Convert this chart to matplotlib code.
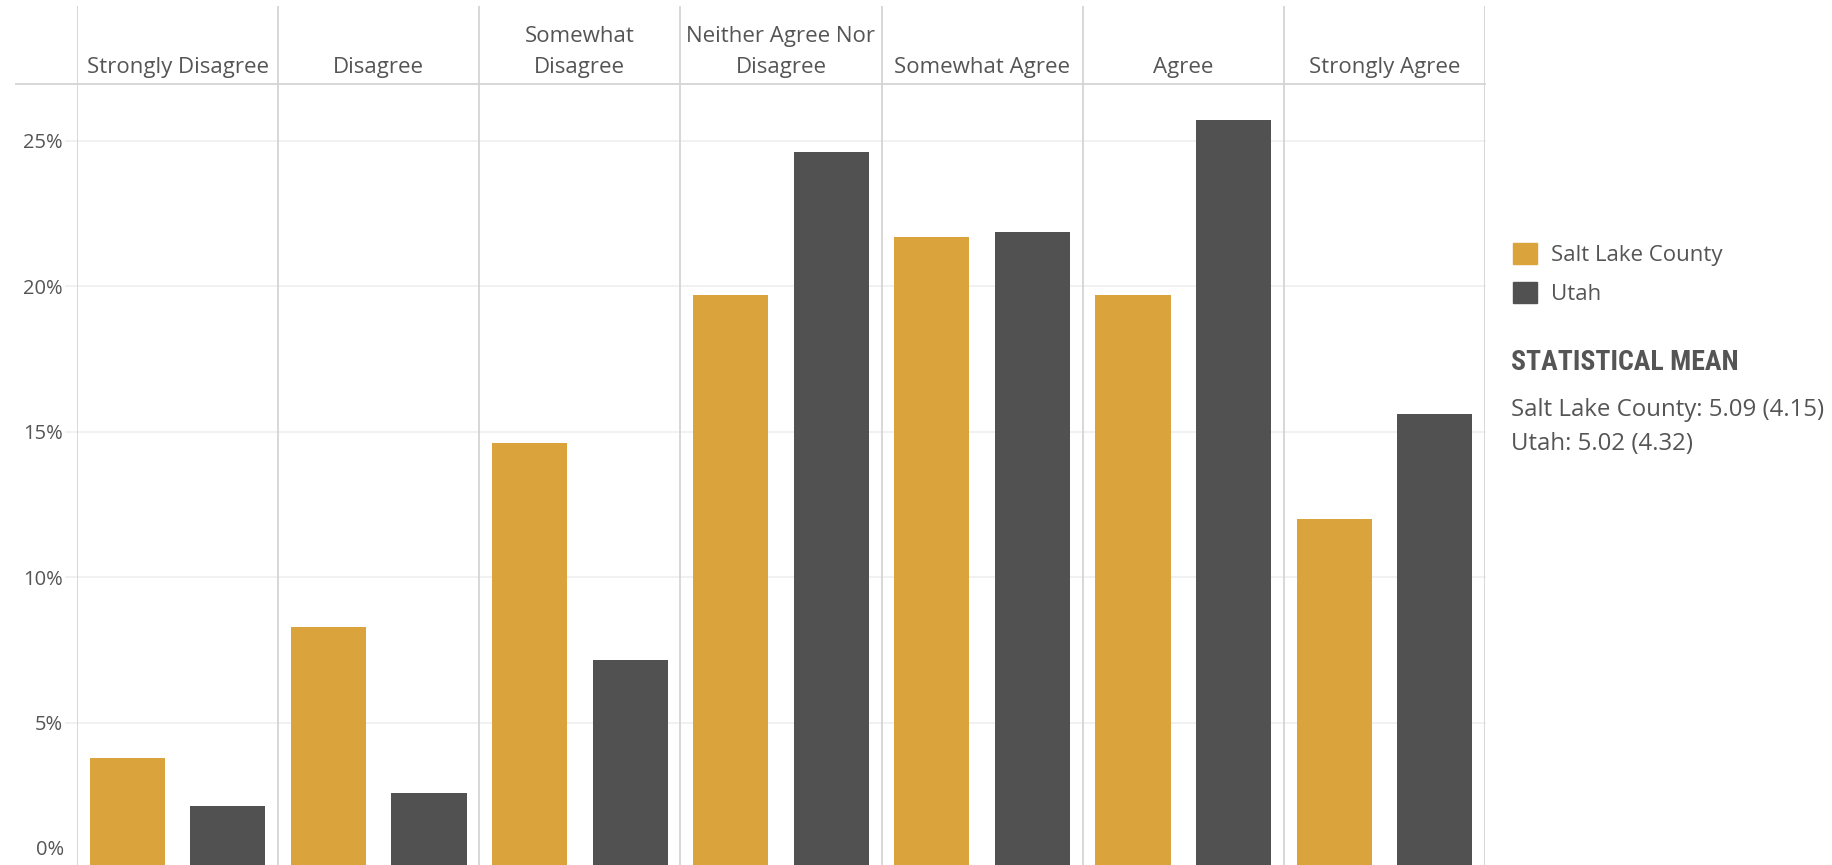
import matplotlib.pyplot as plt
import numpy as np
from matplotlib.patches import Patch
from matplotlib import font_manager

plt.rcParams['font.family'] = ['Open Sans', 'DejaVu Sans']

categories = ["Strongly Disagree", "Disagree", "Somewhat\nDisagree",
              "Neither Agree Nor\nDisagree", "Somewhat Agree", "Agree", "Strongly Agree"]
salt_lake = [3.8, 8.3, 14.6, 19.7, 21.7, 19.7, 12.0]
utah = [2.15, 2.6, 7.15, 24.6, 21.85, 25.7, 15.6]
yticks = [5, 10, 15, 20, 25]
series_names = ["Salt Lake County", "Utah"]
mean_lines = ["Salt Lake County: 5.09 (4.15)", "Utah: 5.02 (4.32)"]

orange = '#DBA33B'
grey = '#525152'
text_c = '#555555'
sep_c = '#D4D4D4'

# condensed face for the side heading, if one is installed
names = {f.name for f in font_manager.fontManager.ttflist}
cond = [n for n in ['Roboto Condensed', 'Open Sans Condensed', 'Noto Sans Condensed',
                    'DejaVu Sans Condensed', 'Liberation Sans Narrow'] if n in names]
if cond:
    head_family, head_size = [cond[0], 'DejaVu Sans'], 20
else:
    head_family, head_size = ['Roboto', 'DejaVu Sans'], 17

W, H = 1832, 865
fig = plt.figure(figsize=(W / 100, H / 100), dpi=100)

left, right = 77, 1485
top_plot, zero_y = 84, 868.6
ax = fig.add_axes([left / W, (H - zero_y) / H, (right - left) / W, (zero_y - top_plot) / H])
hx = fig.add_axes([left / W, (H - top_plot) / H, (right - left) / W, (top_plot - 6) / H])

x = np.arange(len(categories))
bw = 0.373
ax.bar(x - 0.25, salt_lake, bw, color=orange, zorder=3)
ax.bar(x + 0.25, utah, bw, color=grey, zorder=3)

ymax = (zero_y - top_plot) / ((zero_y - 723) / 5)
ax.set_xlim(-0.5, len(categories) - 0.5)
ax.set_ylim(0, ymax)
for v in yticks:
    ax.axhline(v, xmin=-0.008, xmax=1, color='#EFEFEF', lw=1.2, zorder=1, clip_on=False)
for b in np.arange(-0.5, len(categories), 1.0):
    ax.axvline(b, color=sep_c, lw=1.3, zorder=2)
    hx.axvline(b, color=sep_c, lw=1.3)

ax.set_yticks(yticks)
ax.set_yticklabels([f"{v}%" for v in yticks])
ax.tick_params(axis='y', length=0, pad=10, labelsize=14.5, labelcolor=text_c)
ax.set_xticks([])
for s in ax.spines.values():
    s.set_visible(False)
fig.text(64 / W, 1 - 850 / H, "0%", ha='right', va='center', fontsize=14.5, color=text_c)

hx.set_xlim(-0.5, len(categories) - 0.5)
hx.set_ylim(0, 1)
hx.axis('off')
for i, c in enumerate(categories):
    hx.text(i, 0.08, c, ha='center', va='bottom', fontsize=16, color=text_c, linespacing=1.6)
fig.add_artist(plt.Line2D([16 / W, right / W], [1 - top_plot / H, 1 - top_plot / H],
                          color=sep_c, lw=1.3))

handles = [Patch(color=orange), Patch(color=grey)]
fig.legend(handles, series_names, loc='upper left', bbox_to_anchor=(1504 / W, 1 - 234 / H),
           frameon=False, fontsize=16, labelcolor=text_c, handlelength=1.1, handleheight=1.1,
           handletextpad=0.6, labelspacing=0.7, borderaxespad=0)

fig.text(1511 / W, 1 - 363 / H, "STATISTICAL MEAN", ha='left', va='center',
         fontsize=head_size, fontweight='bold', color=text_c, family=head_family)
for i, t in enumerate(mean_lines):
    fig.text(1511 / W, 1 - (410 + 34 * i) / H, t, ha='left', va='center', fontsize=17.3, color=text_c)

fig.savefig('out.png', dpi=100)
